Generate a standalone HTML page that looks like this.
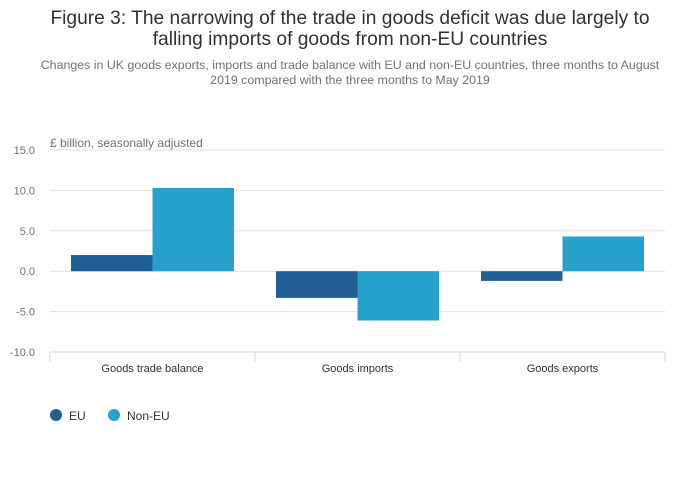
<!DOCTYPE html>
<html><head><meta charset="utf-8"><style>
body{margin:0;background:#fff;font-family:"Liberation Sans",sans-serif;}
#wrap{position:relative;width:700px;height:502px;overflow:hidden;}
</style></head><body>
<div id="wrap">
<svg id="chart" width="700" height="502">
<text x="350" y="24" text-anchor="middle" font-size="19.2" fill="#323132">Figure 3: The narrowing of the trade in goods deficit was due largely to</text>
<text x="350" y="45" text-anchor="middle" font-size="19.2" fill="#323132">falling imports of goods from non-EU countries</text>
<text x="350" y="69" text-anchor="middle" font-size="12.4" fill="#707071">Changes in UK goods exports, imports and trade balance with EU and non-EU countries, three months to August</text>
<text x="350" y="84" text-anchor="middle" font-size="12.4" fill="#707071">2019 compared with the three months to May 2019</text>
<text x="50" y="147" font-size="12" fill="#707071">£ billion, seasonally adjusted</text>
<g id="grid"></g><g id="bars"></g><g id="xaxis"></g>
<g>
<circle cx="56" cy="415" r="6" fill="#206095"/>
<text x="69" y="420" font-size="12" fill="#323132">EU</text>
<circle cx="114" cy="415" r="6" fill="#27a0cc"/>
<text x="127" y="420" font-size="12" fill="#323132">Non-EU</text>
</g>
</svg></div>
<script>
const categories=["Goods trade balance","Goods imports","Goods exports"];
const euValues=[2.0,-3.3,-1.2];
const nonEuValues=[10.3,-6.1,4.3];
const yTicks=[15,10,5,0,-5,-10];
const yTickLabels=["15.0","10.0","5.0","0.0","-5.0","-10.0"];
const NS="http://www.w3.org/2000/svg";
const x0=50,x1=665,yTop=150,yBot=352,yMax=15,yMin=-10;
function y(v){return yTop+(yMax-v)*(yBot-yTop)/(yMax-yMin);}
const band=(x1-x0)/categories.length;
function mk(t,a,p){const e=document.createElementNS(NS,t);for(const k in a)e.setAttribute(k,a[k]);p.appendChild(e);return e;}
const grid=document.getElementById('grid');
yTicks.forEach((v,i)=>{
 if(v!==yMin){const l=mk('line',{x1:x0,x2:x1,y1:y(v),y2:y(v),stroke:'#e0e0e0','stroke-width':1},grid);
 
 }
 const t=mk('text',{x:35,y:y(v)+4,'text-anchor':'end','font-size':11,fill:'#707071'},grid);t.textContent=yTickLabels[i];
 
 
});
const bars=document.getElementById('bars');
const pad=21,bw=(band-2*pad)/2;
categories.forEach((c,i)=>{
 [[euValues,'#206095','eu'],[nonEuValues,'#27a0cc','non-eu']].forEach((s,j)=>{
  const v=s[0][i];const top=Math.min(y(v),y(0));
  const r=mk('rect',{x:x0+i*band+pad+j*bw,y:top,width:bw,height:Math.abs(y(v)-y(0)),fill:s[1]},bars);
  
  
 });
});
const xa=document.getElementById('xaxis');
const al=mk('line',{x1:x0,x2:x1,y1:yBot,y2:yBot,stroke:'#ccd6eb'},xa);


for(let i=0;i<=categories.length;i++){const tk=mk('line',{x1:x0+i*band,x2:x0+i*band,y1:yBot,y2:yBot+10,stroke:'#ccd6eb'},xa);
 
 }
categories.forEach((c,i)=>{const t=mk('text',{x:x0+(i+0.5)*band,y:372,'text-anchor':'middle','font-size':11,fill:'#323132'},xa);t.textContent=c;
 
 });
</script>
</body></html>
